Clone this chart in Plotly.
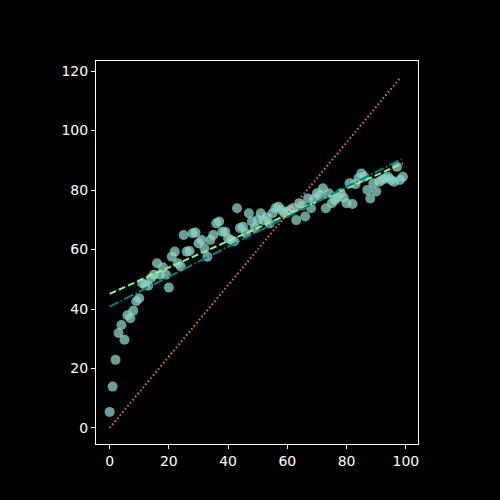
import plotly.graph_objects as go

# scatter data
x_pts = list(range(100))
y_pts = [5.4, 13.9, 22.9, 31.9, 34.6, 29.7, 37.9, 36.9, 39.4, 42.6,
         43.6, 48.7, 48.1, 47.8, 50.4, 51.5, 55.4, 51.5, 54.0, 51.5,
         47.2, 57.6, 59.3, 55.4, 54.3, 64.9, 59.3, 59.5, 65.5, 65.7,
         62.1, 63.2, 60.4, 57.6, 63.2, 64.9, 68.8, 69.4, 66.0, 66.0,
         63.8, 63.2, 62.8, 73.9, 67.2, 67.7, 65.5, 72.2, 69.4, 67.2,
         69.9, 72.2, 69.9, 70.8, 68.8, 72.2, 73.9, 74.4, 73.3, 72.2,
         72.7, 73.3, 74.0, 69.9, 75.6, 74.8, 71.1, 77.2, 73.9, 77.0,
         78.9, 78.3, 80.6, 73.9, 78.9, 75.6, 76.7, 77.5, 78.9, 77.5,
         75.6, 82.3, 75.3, 82.0, 84.0, 85.6, 84.5, 80.0, 77.2, 82.3,
         79.5, 82.8, 83.4, 84.0, 84.5, 83.4, 82.8, 87.8, 83.4, 84.5]

# fitted / reference lines (end points)
fit1_x = [0, 99]
fit1_y = [45.1, 89.0]
fit2_x = [0, 98.5]
fit2_y = [40.8, 90.4]
ref_x = [0, 98]
ref_y = [0, 117.6]

x_ticks = [0, 20, 40, 60, 80, 100]
y_ticks = [0, 20, 40, 60, 80, 100, 120]

fig = go.Figure()
fig.add_trace(go.Scatter(x=x_pts, y=y_pts, mode="markers",
                         marker=dict(size=10, color="#8dd3c7", opacity=0.75,
                                     line=dict(width=0))))
fig.add_trace(go.Scatter(x=fit1_x, y=fit1_y, mode="lines",
                         line=dict(color="#90ee90", width=2, dash="7px,3px")))
fig.add_trace(go.Scatter(x=fit2_x, y=fit2_y, mode="lines",
                         line=dict(color="#008080", width=2,
                                   dash="10px,2.5px,1.5px,2.5px")))
fig.add_trace(go.Scatter(x=ref_x, y=ref_y, mode="lines",
                         line=dict(color="#ec7140", width=2, dash="1.5px,2.5px")))

axis_style = dict(showgrid=False, zeroline=False, showline=True, mirror=True,
                  linecolor="white", linewidth=1, ticks="outside", ticklen=4,
                  tickcolor="white", tickfont=dict(color="white", size=14,
                                                   family="DejaVu Sans"))
fig.update_xaxes(range=[-4.6, 104.1], tickvals=x_ticks, **axis_style)
fig.update_yaxes(range=[-5.4, 123.4], tickvals=y_ticks, **axis_style)

fig.update_layout(width=500, height=500, showlegend=False,
                  paper_bgcolor="black", plot_bgcolor="black",
                  margin=dict(l=96, r=82, t=61, b=56))

# drop the page's default white margin, no mode bar
fig.write_html("out.html", config={"displayModeBar": False},
               post_script="document.body.style.margin='0';"
                           "document.body.style.background='black';")
